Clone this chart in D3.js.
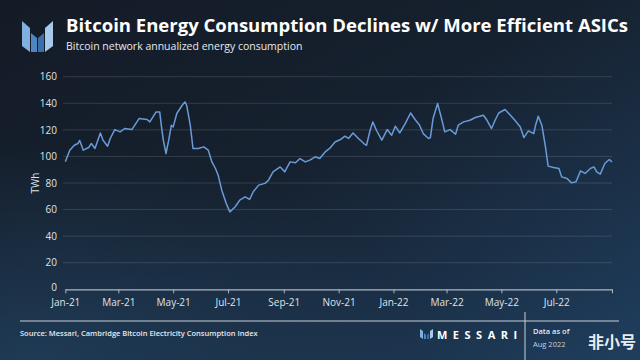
<!DOCTYPE html>
<html><head><meta charset="utf-8">
<script src="https://cdn.jsdelivr.net/npm/d3@7"></script>
<style>
html,body{margin:0;padding:0;background:#141d29;}
svg{display:block;}
</style></head>
<body>
<script>
// ---- data ----
const startDate = "2021-01-01";
const dayOffsets = [0,5,10,14,16,20,26,29,33,39,42,47,50,55,61,66,74,82,91,94,101,105,107,109,112,115,118,120,124,130,133,135,139,142,148,154,159,163,167,170,174,179,183,189,194,200,205,209,215,222,226,231,239,244,250,256,261,267,272,278,283,289,294,300,306,311,315,320,326,332,335,339,342,346,352,358,363,367,372,378,384,389,394,398,404,406,409,414,418,422,428,434,437,443,450,456,461,465,469,474,478,482,489,495,500,506,510,515,521,523,526,530,534,537,543,549,552,558,563,568,573,578,584,588,591,595,600,605,608];
const twh = [96,104.7,108.4,109.7,112,104.7,106.7,109.7,106,117.7,112.2,107.7,113.5,120.2,118.5,121,120.2,128.5,127.8,126,133.5,133.5,122.2,112.2,102.2,112.2,123.5,122.2,132.3,138.5,141,138.5,123.5,106,106,107.2,104.7,95.9,90.9,85.9,74.6,64.6,58.3,62.1,67.1,69.6,67.6,73.4,78.4,79.7,82.1,88.4,92.1,88.4,95.9,95.2,98.4,95.9,97.2,99.7,98.4,103.4,106,110.9,112.7,115.2,113.5,117.7,113.5,109.7,108.4,119.7,126,119.7,112.2,120.2,116,122.7,117.7,124.7,132.7,127.8,123.5,117.2,113.5,114.2,128.5,139.8,129.7,118.5,120.2,116.7,123.5,126,127.2,129.3,130.2,131,127.2,121,127.2,132.7,135.3,131,127.2,122.2,114.2,119.2,117.2,123.5,130.2,123.5,107.2,92.7,91.7,90.9,84.6,83.4,80.1,80.9,89.1,87.2,90.9,92.1,88.4,86.7,94.7,97.7,95.9];
const xTickDates = ["2021-01-01","2021-03-01","2021-05-01","2021-07-01","2021-09-01","2021-11-01","2022-01-01","2022-03-01","2022-05-01","2022-07-01","2022-09-01"];
const xTickLabels = ["Jan-21","Mar-21","May-21","Jul-21","Sep-21","Nov-21","Jan-22","Mar-22","May-22","Jul-22",""];
const yTicks = [0,20,40,60,80,100,120,140,160];

const W = 640, H = 360;
const parse = d3.utcParse("%Y-%m-%d");
const t0 = parse(startDate);
const data = dayOffsets.map((d,i)=>({date: d3.utcDay.offset(t0, d), v: twh[i]}));
const tickDates = xTickDates.map(parse);

const svg = d3.select("body").append("svg").attr("width",W).attr("height",H);
const defs = svg.append("defs");
const bg = defs.append("linearGradient").attr("id","bg").attr("x1","0").attr("y1","0").attr("x2","1").attr("y2","1");
bg.append("stop").attr("offset","0").attr("stop-color","#131b26");
bg.append("stop").attr("offset","0.45").attr("stop-color","#16212f");
bg.append("stop").attr("offset","1").attr("stop-color","#1f3e5e");
svg.append("rect").attr("width",W).attr("height",H).attr("fill","url(#bg)");
const bg2 = defs.append("radialGradient").attr("id","bg2").attr("cx","0.05").attr("cy","1").attr("r","0.6");
bg2.append("stop").attr("offset","0").attr("stop-color","#21405e").attr("stop-opacity",0.8);
bg2.append("stop").attr("offset","1").attr("stop-color","#21405e").attr("stop-opacity",0);
svg.append("rect").attr("width",W).attr("height",H).attr("fill","url(#bg2)");

// logo
const lg = svg.append("g");
lg.append("polygon").attr("points","22,21 30,28 30,52 22,46").attr("fill","#7fb0e0");
lg.append("polygon").attr("points","31,33 37,38 37,52 31,52").attr("fill","#4f86c2");
lg.append("polygon").attr("points","38,38 44,33 44,52 38,52").attr("fill","#3c6fa8");
lg.append("polygon").attr("points","45,28 53,21 53,46 45,52").attr("fill","#a5c8ec");

// titles
svg.append("text").attr("x",66).attr("y",32).attr("fill","#ffffff")
  .attr("font-family","Open Sans, sans-serif").attr("font-weight",700).attr("font-size",18)
  .attr("textLength",562).attr("lengthAdjust","spacingAndGlyphs")
  .text("Bitcoin Energy Consumption Declines w/ More Efficient ASICs");
svg.append("text").attr("x",66).attr("y",50).attr("fill","#e6e9ee")
  .attr("font-family","Open Sans, sans-serif").attr("font-size",10.5)
  .text("Bitcoin network annualized energy consumption");

// scales
const x = d3.scaleUtc().domain([tickDates[0], tickDates[tickDates.length-1]]).range([65.3, 612]);
const y = d3.scaleLinear().domain([0,160]).range([289.3, 76.7]);

// gridlines
svg.append("g").selectAll("line").data(yTicks.slice(1)).join("line")
  .attr("x1",63).attr("x2",612).attr("y1",d=>y(d)).attr("y2",d=>y(d))
  .attr("stroke","#ffffff").attr("stroke-opacity",0.13).attr("stroke-width",1);

// y axis
const ya = svg.append("g").attr("transform","translate(60,0)")
  .call(d3.axisLeft(y).tickValues(yTicks).tickSize(0).tickPadding(3));
ya.select(".domain").remove();
ya.selectAll("text").attr("fill","#dfe3e8").attr("font-family","Open Sans, sans-serif").attr("font-size",10);
ya.selectAll(".tick").filter(d=>d===0).select("text").attr("dy","0.1em");

svg.append("text").attr("transform","translate(39,183) rotate(-90)").attr("text-anchor","middle")
  .attr("fill","#dfe3e8").attr("font-family","Open Sans, sans-serif").attr("font-size",10).text("TWh");

// x axis
const xa = svg.append("g").attr("transform",`translate(0,${y(0)})`)
  .call(d3.axisBottom(x).tickValues(tickDates).tickFormat((d,i)=>xTickLabels[i]).tickSize(4).tickSizeOuter(0).tickPadding(6));
xa.select(".domain").attr("stroke","#aeb6c0").attr("stroke-width",1.2);
xa.selectAll(".tick line").attr("stroke","#aeb6c0");
xa.selectAll("text").attr("fill","#dfe3e8").attr("font-family","Open Sans, sans-serif").attr("font-size",10);

// line
svg.append("path").datum(data)
  .attr("d", d3.line().x(d=>x(d.date)).y(d=>y(d.v)))
  .attr("fill","none").attr("stroke","#6a9bd8").attr("stroke-width",1.5).attr("stroke-linejoin","round");

// footer
svg.append("line").attr("x1",20).attr("x2",619).attr("y1",321).attr("y2",321).attr("stroke","#c9d0d8").attr("stroke-width",1);
svg.append("text").attr("x",20).attr("y",336).attr("fill","#e6e9ee")
  .attr("font-family","Open Sans, sans-serif").attr("font-weight",600).attr("font-size",7.5)
  .text("Source: Messari, Cambridge Bitcoin Electricity Consumption Index");
const fl = svg.append("g");
fl.append("polygon").attr("points","420,329 423,331 423,339 420,337").attr("fill","#7fb0e0");
fl.append("polygon").attr("points","424,333 426,335 426,339 424,339").attr("fill","#4f86c2");
fl.append("polygon").attr("points","427,335 429,333 429,339 427,339").attr("fill","#3c6fa8");
fl.append("polygon").attr("points","430,331 433,329 433,337 430,339").attr("fill","#a5c8ec");
svg.append("text").attr("x",437).attr("y",339).attr("fill","#ffffff")
  .attr("font-family","Open Sans, sans-serif").attr("font-weight",700).attr("font-size",11)
  .attr("letter-spacing",5.5).text("MESSARI");
svg.append("line").attr("x1",525).attr("x2",525).attr("y1",312).attr("y2",360).attr("stroke","#c9d0d8").attr("stroke-width",1);
svg.append("text").attr("x",533).attr("y",334).attr("fill","#e6e9ee")
  .attr("font-family","Open Sans, sans-serif").attr("font-weight",600).attr("font-size",7.5).text("Data as of");
svg.append("text").attr("x",533).attr("y",347).attr("fill","#c9d0d8")
  .attr("font-family","Open Sans, sans-serif").attr("font-size",7.5).text("Aug 2022");
svg.append("text").attr("x",636).attr("y",348).attr("text-anchor","end").attr("fill","#ffffff").attr("fill-opacity",0.92)
  .attr("font-family","Noto Sans CJK SC, sans-serif").attr("font-weight",700).attr("font-size",16).text("非小号");
</script>
</body></html>
